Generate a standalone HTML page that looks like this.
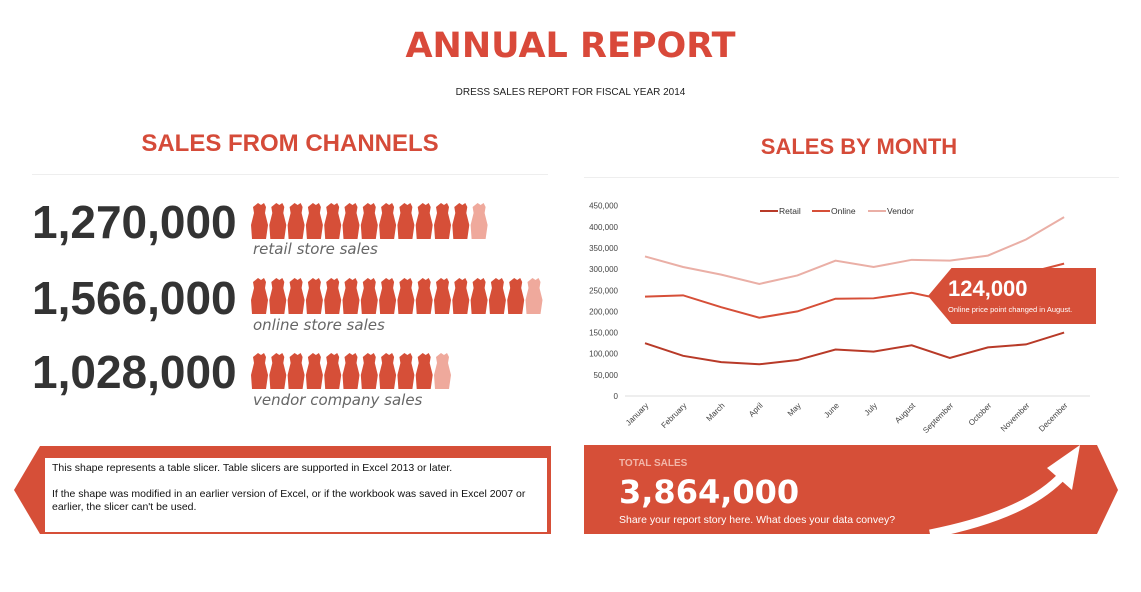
<!DOCTYPE html>
<html><head><meta charset="utf-8"><style>
body{margin:0;width:1141px;height:592px;background:#fff;font-family:"Liberation Sans",sans-serif;position:relative;overflow:hidden}
.a{position:absolute}
.big{font-weight:bold;font-size:46px;color:#333;font-family:"Liberation Sans",sans-serif}
.lbl{font-style:italic;font-size:15px;color:#666;font-family:"DejaVu Sans",sans-serif}
.h2{color:#D54B39;font-weight:bold;font-size:24px}
</style></head><body>
<div class="a" style="left:0;width:1141px;top:26px;text-align:center;font-size:35px;font-weight:bold;color:#D9493A;font-family:'DejaVu Sans',sans-serif">ANNUAL REPORT</div>
<div class="a" style="left:0;width:1141px;top:87px;text-align:center;font-size:10px;color:#222">DRESS SALES REPORT FOR FISCAL YEAR 2014</div>
<div class="a h2" style="left:32px;width:516px;top:130px;text-align:center">SALES FROM CHANNELS</div>
<div class="a" style="left:32px;width:516px;top:174px;height:1px;background:#eee"></div>
<div class="a h2" style="left:584px;width:550px;top:134px;text-align:center;font-size:22px">SALES BY MONTH</div>
<div class="a" style="left:584px;width:535px;top:177px;height:1px;background:#eee"></div>

<div class="a big" style="left:32px;top:195px">1,270,000</div>
<div class="a lbl" style="left:253px;top:240px">retail store sales</div>
<div class="a big" style="left:32px;top:271px">1,566,000</div>
<div class="a lbl" style="left:253px;top:316px">online store sales</div>
<div class="a big" style="left:32px;top:345px">1,028,000</div>
<div class="a lbl" style="left:253px;top:391px">vendor company sales</div>
<svg class="a" id="dress" style="left:0;top:0" width="600" height="440"></svg>

<svg class="a" id="chart" style="left:580px;top:190px" width="540" height="250"></svg>

<div class="a" style="left:928px;top:268px;width:168px;height:56px;background:#D64F38;clip-path:polygon(14% 0,100% 0,100% 100%,14% 100%,0 50%)"></div>
<div class="a" style="left:948px;top:276px;color:#fff;font-weight:bold;font-size:22px">124,000</div>
<div class="a" style="left:948px;top:305px;color:#fff;font-size:7.5px">Online price point changed in August.</div>

<svg class="a" style="left:0;top:440px" width="570" height="100"><polygon points="40,6 551,6 551,94 40,94 14,50" fill="#D64F38"/><rect x="45" y="18" width="502" height="74" fill="#fff"/></svg>
<div class="a" style="left:52px;top:462px;font-size:10.5px;color:#111;line-height:13px;width:490px">This shape represents a table slicer. Table slicers are supported in Excel 2013 or later.<br><br>If the shape was modified in an earlier version of Excel, or if the workbook was saved in Excel 2007 or earlier, the slicer can't be used.</div>

<svg class="a" style="left:580px;top:440px" width="561" height="100"><polygon points="4,5 500,5 500,94 4,94" fill="#D64F38"/><polygon points="499,5 517,5 538,50 517,94 499,94" fill="#D64F38"/>
<path d="M350,94 C420,80 460,60 483,35" stroke="#fff" stroke-width="9" fill="none"/><polygon points="467,28 500,5 492,50" fill="#fff"/></svg>
<div class="a" style="left:619px;top:458px;color:#F2B6A8;font-weight:bold;font-size:10px">TOTAL SALES</div>
<div class="a" style="left:619px;top:473px;color:#fff;font-weight:bold;font-size:32px;font-family:'DejaVu Sans',sans-serif">3,864,000</div>
<div class="a" style="left:619px;top:514px;color:#fff;font-size:10.5px">Share your report story here. What does your data convey?</div>

<script>
const NS="http://www.w3.org/2000/svg";
function mk(p,t,a){const e=document.createElementNS(NS,t);for(const k in a)e.setAttribute(k,a[k]);p.appendChild(e);return e;}
const channelNames=["retail","online","vendor"];
const channelTotals=[1270000,1566000,1028000];
const unitPerIcon=100000;
const ds=document.getElementById('dress');
const rowsY=[203,278,353];
channelTotals.forEach((v,r)=>{
  const n=v/unitPerIcon;
  for(let i=0;i<Math.ceil(n);i++){
    const x=253+i*18.3, y=rowsY[r];
    const last=i===Math.ceil(n)-1 && n%1>0;
    const col= last ? "#EFA99C":"#D64F38";
    const g=mk(ds,'path',{d:`M${x+5},${y} l3,2 l3,-2 l2,4 l-1,6 l3,12 l-2,14 l-14,0 l-1,-14 l3,-12 l-1,-6 z`,fill:col});
    
    
  }
});
const months=["January","February","March","April","May","June","July","August","September","October","November","December"];
const retail=[125000,95000,80000,75000,85000,110000,105000,120000,90000,115000,122000,150000];
const online=[235000,238000,210000,185000,200000,230000,231000,244000,225000,250000,290000,313000];
const vendor=[330000,305000,287000,265000,285000,320000,305000,322000,320000,332000,370000,423000];
const yTicks=[0,50000,100000,150000,200000,250000,300000,350000,400000,450000];
const svg=document.getElementById('chart');
const x=i=>65+i*38.1, y=v=>206-v/450000*190.3;
const ax=mk(svg,'line',{x1:45,x2:510,y1:206,y2:206,stroke:"#ddd"});

yTicks.forEach(t=>{const e=mk(svg,'text',{x:38,y:y(t)+3,'text-anchor':'end','font-size':8,fill:'#444','font-family':'Liberation Sans'});e.textContent=t.toLocaleString('en-US');
});
months.forEach((m,i)=>{const e=mk(svg,'text',{x:x(i)+4,y:216,'text-anchor':'end','font-size':8,fill:'#444','font-family':'Liberation Sans',transform:`rotate(-45 ${x(i)+4} 216)`});e.textContent=m;
});
const series=[["Retail",retail,"#B83A28"],["Online",online,"#D64F38"],["Vendor",vendor,"#EAAFA6"]];
series.forEach(([n,d,c],k)=>{
  const p=mk(svg,'polyline',{points:d.map((v,i)=>x(i)+','+y(v)).join(' '),fill:'none',stroke:c,'stroke-width':2});
  
  const lx=[180,232,288][k];
  const l=mk(svg,'line',{x1:lx,x2:lx+18,y1:21,y2:21,stroke:c,'stroke-width':2});
  
  const t=mk(svg,'text',{x:lx+19,y:24,'font-size':8.5,fill:'#333','font-family':'Liberation Sans'});t.textContent=n;
  
});
</script>
</body></html>
